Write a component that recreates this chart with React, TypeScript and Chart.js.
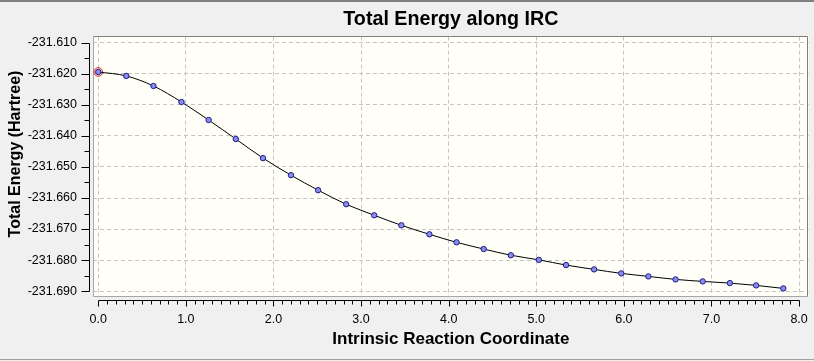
import React, { useEffect, useRef } from 'react';
import { Chart, registerables } from 'chart.js';

Chart.register(...registerables);

const chartTitle = 'Total Energy along IRC';
const xAxisTitle = 'Intrinsic Reaction Coordinate';
const yAxisTitle = 'Total Energy (Hartree)';

const reactionCoordinate = [
  0, 0.32, 0.63, 0.95, 1.26, 1.57, 1.88, 2.2, 2.51, 2.83, 3.15, 3.46, 3.78,
  4.09, 4.4, 4.71, 5.03, 5.34, 5.66, 5.97, 6.28, 6.59, 6.9, 7.21, 7.51, 7.82,
];
const totalEnergy = [
  -231.61937, -231.62066, -231.62389, -231.62906, -231.63487, -231.64098,
  -231.64714, -231.65264, -231.65748, -231.662, -231.66556, -231.66879,
  -231.67169, -231.67428, -231.67644, -231.67844, -231.67993, -231.68161,
  -231.683, -231.68429, -231.68526, -231.68623, -231.68687, -231.68742,
  -231.68816, -231.68913,
];
const xRange = [-0.06, 8.11];
const xStep = 1;
const xMinorStep = 0.1;
const yRange = [-231.6919, -231.608];
const yStep = 0.01;
const yMinorStep = 0.005;

const FONT = "'Liberation Sans', Arial, sans-serif";

const decorPlugin = {
  id: 'decor',
  beforeDraw(chart: any) {
    const { ctx, width, height, chartArea: a } = chart;
    ctx.save();
    ctx.fillStyle = '#f0f0f0';
    ctx.fillRect(0, 0, width, height);
    ctx.fillStyle = '#808080';
    ctx.fillRect(0, 0, width, 2);
    ctx.fillStyle = '#a0a0a0';
    ctx.fillRect(0, height - 2, width, 1);
    ctx.fillStyle = '#fffff8';
    ctx.fillRect(a.left, a.top, a.right - a.left, a.bottom - a.top);
    ctx.restore();
  },
  beforeDatasetsDraw(chart: any) {
    const { ctx, chartArea: a } = chart;
    const l = Math.floor(a.left) + 0.5;
    const r = Math.floor(a.right) - 0.5;
    const t = Math.floor(a.top) + 0.5;
    const b = Math.floor(a.bottom) - 0.5;
    ctx.save();
    ctx.lineWidth = 1;
    ctx.strokeStyle = '#a8a8a8';
    ctx.beginPath();
    ctx.moveTo(l, t);
    ctx.lineTo(l, b);
    ctx.lineTo(r, b);
    ctx.stroke();
    ctx.strokeStyle = '#808080';
    ctx.beginPath();
    ctx.moveTo(l, t);
    ctx.lineTo(r, t);
    ctx.lineTo(r, b);
    ctx.stroke();
    ctx.restore();
  },
  afterDraw(chart: any) {
    const { ctx, chartArea: a } = chart;
    const xs = chart.scales.x;
    const ys = chart.scales.y;
    ctx.save();
    ctx.strokeStyle = '#000';
    ctx.lineWidth = 1;
    // x axis
    const xAxisY = Math.floor(a.bottom) + 3.5;
    const xt = xs.ticks.map((t: any) => t.value);
    const x0 = xt[0];
    const x1 = xt[xt.length - 1];
    ctx.beginPath();
    ctx.moveTo(Math.round(xs.getPixelForValue(x0)) + 0.5, xAxisY);
    ctx.lineTo(Math.round(xs.getPixelForValue(x1)) + 0.5, xAxisY);
    const nx = Math.round((x1 - x0) / xMinorStep);
    for (let i = 0; i <= nx; i++) {
      const v = x0 + i * xMinorStep;
      const px = Math.round(xs.getPixelForValue(v)) + 0.5;
      const major = i % Math.round(xStep / xMinorStep) === 0;
      ctx.moveTo(px, xAxisY);
      ctx.lineTo(px, xAxisY + (major ? 6 : 4));
    }
    ctx.stroke();
    // y axis
    const yAxisX = Math.floor(a.left) - 3.5;
    const yt = ys.ticks.map((t: any) => t.value);
    const y0 = yt[0];
    const y1 = yt[yt.length - 1];
    ctx.beginPath();
    ctx.moveTo(yAxisX, Math.round(ys.getPixelForValue(y0)) + 0.5);
    ctx.lineTo(yAxisX, Math.round(ys.getPixelForValue(y1)) + 0.5);
    const ny = Math.round((y1 - y0) / yMinorStep);
    for (let i = 0; i <= ny; i++) {
      const v = y0 + i * yMinorStep;
      const py = Math.round(ys.getPixelForValue(v)) + 0.5;
      const major = i % Math.round(yStep / yMinorStep) === 0;
      ctx.moveTo(yAxisX, py);
      ctx.lineTo(yAxisX - (major ? 8 : 5), py);
    }
    ctx.stroke();
    // y axis title
    ctx.fillStyle = '#000';
    ctx.font = `bold 16px ${FONT}`;
    ctx.textAlign = 'center';
    ctx.textBaseline = 'middle';
    ctx.translate(15.5, 154);
    ctx.rotate(-Math.PI / 2);
    ctx.fillText(yAxisTitle, 0, 0);
    ctx.restore();
  },
};

export default function App() {
  const ref = useRef<HTMLCanvasElement | null>(null);
  useEffect(() => {
    if (!ref.current) return;
    const points = reactionCoordinate.map((x, i) => ({ x, y: totalEnergy[i] }));
    const chart = new Chart(ref.current, {
      type: 'line',
      data: {
        datasets: [
          {
            label: 'Energy',
            data: points,
            borderColor: '#000000',
            borderWidth: 1,
            cubicInterpolationMode: 'monotone',
            pointRadius: 2.7,
            pointBorderWidth: 1,
            pointBorderColor: '#1c1c8c',
            pointBackgroundColor: '#8c8ce8',
            fill: false,
          },
          {
            label: 'Current',
            data: [points[0]],
            showLine: false,
            pointRadius: 4.3,
            pointBorderWidth: 1,
            pointBorderColor: '#e01c1c',
            pointBackgroundColor: 'rgba(0,0,0,0)',
          },
        ],
      },
      options: {
        animation: false,
        responsive: false,
        events: [],
        layout: { padding: { left: 0, right: 4, top: 0, bottom: 0 } },
        plugins: {
          legend: { display: false },
          tooltip: { enabled: false },
          title: {
            display: true,
            text: chartTitle,
            fullSize: false,
            color: '#000',
            font: { family: FONT, size: 19.7, weight: 'bold', lineHeight: 1.15 },
            padding: { top: 8, bottom: 6 },
          },
        },
        scales: {
          x: {
            type: 'linear',
            min: xRange[0],
            max: xRange[1],
            border: { display: false, dash: [4, 3] },
            grid: { color: '#c4c4c4', drawTicks: false, lineWidth: 1 },
            ticks: {
              stepSize: xStep,
              includeBounds: false,
              padding: 15,
              color: '#000',
              maxRotation: 0,
              font: { family: FONT, size: 12.5 },
              callback: (v: any) => Number(v).toFixed(1),
            },
            title: {
              display: true,
              text: xAxisTitle,
              color: '#000',
              font: { family: FONT, size: 17, weight: 'bold' },
              padding: { top: 0, bottom: 11 },
            },
            afterFit: (s: any) => {
              s.height = 64;
              s.paddingLeft = 0;
              s.paddingRight = 0;
            },
          },
          y: {
            type: 'linear',
            min: yRange[0],
            max: yRange[1],
            border: { display: false, dash: [4, 3] },
            grid: { color: '#c4c4c4', drawTicks: false, lineWidth: 1 },
            ticks: {
              stepSize: yStep,
              includeBounds: false,
              padding: 16,
              color: '#000',
              font: { family: FONT, size: 12.5 },
              callback: (v: any) => Number(v).toFixed(3),
            },
            afterFit: (s: any) => {
              s.width = 93;
              s.paddingTop = 0;
              s.paddingBottom = 0;
            },
          },
        },
      },
      plugins: [decorPlugin],
    } as any);
    return () => chart.destroy();
  }, []);
  return (
    <div style={{ position: 'fixed', left: 0, top: 0, width: 814, height: 361 }}>
      <canvas ref={ref} width={814} height={361} style={{ display: 'block' }} />
    </div>
  );
}
